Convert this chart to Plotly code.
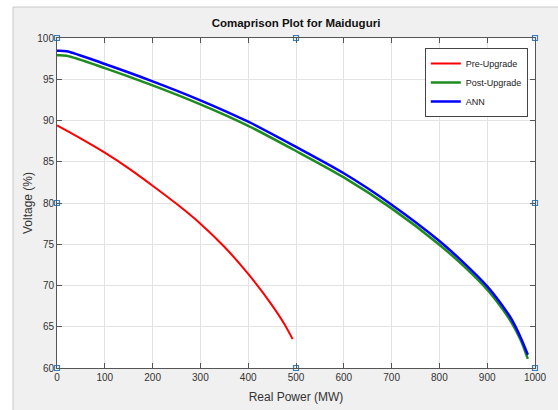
import plotly.graph_objects as go

# Data
x_pre = [0, 50, 100, 150, 200, 250, 300, 350, 400, 450, 475, 493]
v_pre = [89.4, 87.8, 86.1, 84.2, 82.1, 79.9, 77.5, 74.7, 71.4, 67.6, 65.4, 63.5]

x_post = [0, 20, 100, 200, 300, 400, 500, 600, 700, 800, 850, 900, 925, 950, 970, 985]
v_post = [97.9, 97.85, 96.35, 94.25, 91.95, 89.35, 86.3, 83.1, 79.35, 74.95, 72.4, 69.5,
          67.7, 65.6, 63.4, 61.1]
v_ann = [98.45, 98.4, 96.85, 94.75, 92.45, 89.85, 86.8, 83.6, 79.8, 75.4, 72.8, 69.9,
         68.1, 66.0, 63.7, 61.6]

handle_x = [0, 500, 1000, 0, 1000, 0, 500, 1000]
handle_y = [100, 100, 100, 80, 80, 60, 60, 60]

x_ticks = list(range(0, 1001, 100))
y_ticks = list(range(60, 101, 5))

font = "Liberation Sans, Arial, sans-serif"

fig = go.Figure()
fig.add_trace(go.Scatter(x=x_pre, y=v_pre, mode="lines", name="Pre-Upgrade",
                         line=dict(color="#ff0000", width=2, shape="spline", smoothing=0.8)))
fig.add_trace(go.Scatter(x=x_post, y=v_post, mode="lines", name="Post-Upgrade",
                         line=dict(color="#1f8c1f", width=2.5, shape="spline", smoothing=0.8)))
fig.add_trace(go.Scatter(x=x_post, y=v_ann, mode="lines", name="ANN",
                         line=dict(color="#0000ff", width=2.5, shape="spline", smoothing=0.8)))
fig.add_trace(go.Scatter(x=handle_x, y=handle_y, mode="markers", showlegend=False,
                         cliponaxis=False, hoverinfo="skip",
                         marker=dict(symbol="square", size=5, color="#eaf2fa",
                                     line=dict(color="#3a7fc0", width=1.2))))

axis_common = dict(showline=True, linecolor="#555555", linewidth=1, mirror="ticks",
                   ticks="inside", ticklen=5, tickcolor="#555555", automargin=False,
                   showgrid=True, gridcolor="#e3e3e3", gridwidth=1, zeroline=False,
                   tickfont=dict(family=font, size=10, color="#333333"))

fig.update_layout(
    width=558, height=410,
    margin=dict(l=57, r=23, t=38, b=42),
    paper_bgcolor="#ffffff", plot_bgcolor="#ffffff",
    title=dict(text="<b>Comaprison Plot for Maiduguri</b>", x=0.5, xref="paper",
               y=1, yref="paper", yanchor="bottom", pad=dict(b=11),
               font=dict(family=font, size=11.5, color="#111111")),
    xaxis=dict(range=[0, 1000], tickvals=x_ticks,
               title=dict(text="Real Power (MW)", standoff=10,
                          font=dict(family=font, size=12, color="#333333")),
               **axis_common),
    yaxis=dict(range=[60, 100], tickvals=y_ticks,
               title=dict(text="Voltage (%)", standoff=2,
                          font=dict(family=font, size=12, color="#333333")),
               **axis_common),
    legend=dict(x=0.985, y=0.97, xanchor="right", yanchor="top",
                bgcolor="#ffffff", bordercolor="#444444", borderwidth=1,
                font=dict(family=font, size=9, color="#222222"),
                itemwidth=30, tracegroupgap=0),
    showlegend=True,
    shapes=[
        dict(type="rect", xref="paper", yref="paper", layer="below",
             x0=(13 - 57) / 478, x1=(560 - 57) / 478,
             y0=(368 - 412) / 330, y1=(368 - 7) / 330,
             fillcolor="#f0f0f0", line=dict(color="#c8c8c8", width=1)),
        dict(type="rect", xref="paper", yref="paper", layer="below",
             x0=0, x1=1, y0=0, y1=1, fillcolor="#ffffff", line=dict(width=0)),
    ],
)

fig.write_html("out.html")
